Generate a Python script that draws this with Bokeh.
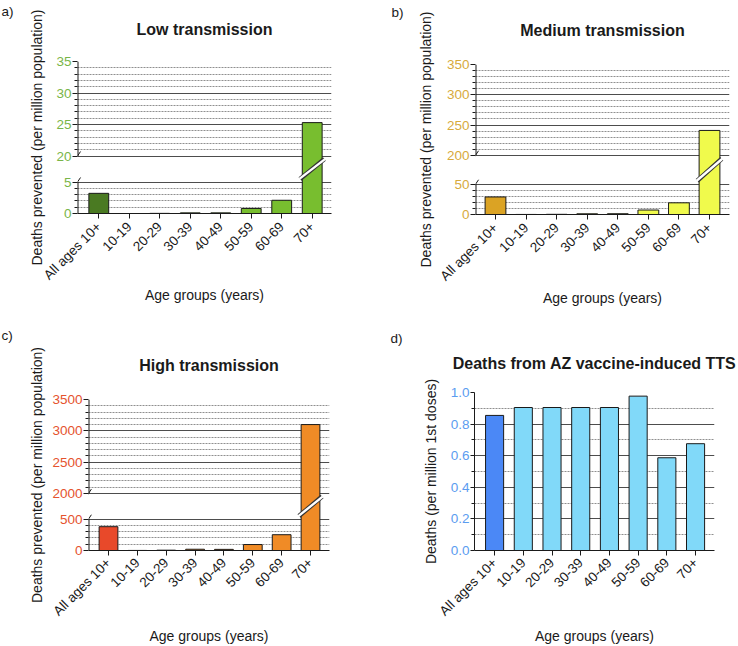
from math import pi
from bokeh.plotting import figure
from bokeh.models import (Range1d, FixedTicker, Grid, ColumnDataSource, NumeralTickFormatter, Title,
                          LinearAxis, CustomLabelingPolicy)
from bokeh.layouts import column, row
from bokeh.embed import file_html
from bokeh.resources import INLINE

FONT = "Liberation Sans"
INK = "#1a1a1a"

# ---------------- data ----------------
categories = ["All ages 10+", "10-19", "20-29", "30-39", "40-49", "50-59", "60-69", "70+"]
low_values = [3.2, 0.0, 0.02, 0.1, 0.1, 0.8, 2.1, 25.3]
medium_values = [29.0, 0.1, 0.3, 1.2, 1.3, 7.4, 19.3, 241.0]
high_values = [380.0, 1.0, 5.0, 20.0, 18.0, 95.0, 252.0, 3100.0]
tts_values = [0.855, 0.905, 0.905, 0.905, 0.905, 0.977, 0.587, 0.676]

# broken-axis scales: (lower segment top, upper segment bottom, upper top, major step, minor step)
low_scale = (5, 20, 35, 5, 1)
medium_scale = (50, 200, 350, 50, 10)
high_scale = (500, 2000, 3500, 500, 100)
tts_ticks = [0.0, 0.2, 0.4, 0.6, 0.8, 1.0]
tts_minor = [0.1, 0.3, 0.5, 0.7, 0.9]

low_colors = ["#4a7a22", "#78be2f"]
medium_colors = ["#dba324", "#f0fa4c"]
high_colors = ["#e8492a", "#f08b26"]
tts_colors = ["#4b88f6", "#81d9f9"]
low_tick_color = "#79b548"
medium_tick_color = "#d7aa3c"
high_tick_color = "#e5532e"
tts_tick_color = "#5b9cf0"

y_label_prevented = "Deaths prevented (per million population)"
y_label_tts = "Deaths (per million 1st doses)"
x_label = "Age groups (years)"


def base_fig(g, xr, yr):
    p = figure(width=g["w"], height=g["h"], x_range=xr, y_range=yr, output_backend="svg",
               toolbar_location=None, title=None,
               min_border_left=g["ml"], min_border_right=g["mr"],
               min_border_top=g["mt"], min_border_bottom=g["h"] - g["mt"] - g["fh"])
    p.outline_line_color = None
    p.grid.visible = False
    p.background_fill_color = "white"
    p.border_fill_color = "white"
    return p


def spacer(size):
    # a label-less axis (white tick only) that just reserves vertical room in the header
    return LinearAxis(ticker=FixedTicker(ticks=[3.5]),
                      major_label_policy=CustomLabelingPolicy(code="return"),
                      major_label_text_font_size="1px", major_label_standoff=0,
                      major_label_text_color="white",
                      major_tick_out=int(round(size)), major_tick_in=0,
                      minor_tick_out=0, minor_tick_in=0, axis_line_color=None,
                      major_tick_line_color="white", minor_tick_line_color="white")


def add_header(p, g, title, letter):
    # stacked from the frame outward: spacer, title, spacer, letter
    p.add_layout(spacer(g["sp2"]), "above")
    p.add_layout(Title(text=title, align="center", vertical_align="bottom", standoff=0,
                       text_font=FONT, text_font_size="16px", text_font_style="bold",
                       text_color=INK), "above")
    if g["sp1"] > 0:
        p.add_layout(spacer(g["sp1"]), "above")
    p.add_layout(Title(text=letter, align="left", vertical_align="bottom", standoff=0,
                       offset=g["lx"], text_font=FONT, text_font_size="13.5px",
                       text_font_style="normal", text_color=INK), "above")


def style_x(ax, std, lab_std):
    ax.ticker = FixedTicker(ticks=list(range(len(categories))))
    ax.major_label_overrides = {i: c for i, c in enumerate(categories)}
    ax.major_label_orientation = pi / 4
    ax.major_label_text_font = FONT
    ax.major_label_text_font_size = "13.5px"
    ax.major_label_text_color = INK
    ax.major_label_standoff = lab_std
    ax.major_tick_out = 5
    ax.major_tick_in = 0
    ax.minor_tick_out = 0
    ax.minor_tick_in = 0
    ax.axis_line_color = INK
    ax.major_tick_line_color = INK
    ax.axis_label = x_label
    ax.axis_label_text_font = FONT
    ax.axis_label_text_font_size = "14px"
    ax.axis_label_text_font_style = "normal"
    ax.axis_label_text_color = INK
    ax.axis_label_standoff = std


def style_y(ax, label, color, std):
    ax.major_label_text_font = FONT
    ax.major_label_text_font_size = "13.5px"
    ax.major_label_text_color = color
    ax.major_label_standoff = 1
    ax.major_tick_out = 5
    ax.major_tick_in = 0
    ax.minor_tick_out = 3
    ax.minor_tick_in = 0
    ax.major_tick_line_color = INK
    ax.minor_tick_line_color = INK
    ax.axis_label = label
    ax.axis_label_text_font = FONT
    ax.axis_label_text_font_size = "14px"
    ax.axis_label_text_font_style = "normal"
    ax.axis_label_text_color = INK
    ax.axis_label_standoff = std


def grid(ticks, minor, range_name="default"):
    return Grid(dimension=1, ticker=FixedTicker(ticks=ticks, minor_ticks=minor),
                y_range_name=range_name,
                grid_line_color="#4d4d4d", grid_line_width=1,
                minor_grid_line_color="#8f8f8f", minor_grid_line_dash="2 1",
                minor_grid_line_width=1)


def broken_panel(values, colors, tick_color, scale, title, letter, g):
    lo_top, hi_bot, top, major, minor = scale
    n = len(categories)
    fh, gap_px = g["fh"], g["gap"]
    span = lo_top + (top - hi_bot)
    k = (fh - gap_px) / span                 # px per data unit
    gap_u = gap_px / k
    off = hi_bot - lo_top - gap_u
    H = top - off
    x0 = -0.5 - g["pl"]
    p = base_fig(g, Range1d(x0, n - 0.5 + g["pr"]), Range1d(0, H))
    p.extra_y_ranges = {"up": Range1d(off, top)}
    xax, yax = p.xaxis[0], p.yaxis[0]

    lo_major = list(range(0, lo_top + 1, major))
    hi_major = list(range(hi_bot, top + 1, major))
    lo_minor = [v for v in range(0, lo_top + 1, minor) if v % major]
    hi_minor = [v for v in range(hi_bot, top + 1, minor) if v % major]
    p.add_layout(grid(lo_major, lo_minor))
    p.add_layout(grid(hi_major, hi_minor, "up"))

    xs = list(range(n))
    fills = [colors[0]] + [colors[1]] * (n - 1)
    lo_i = [i for i in xs if values[i] <= lo_top]
    hi_i = [i for i in xs if values[i] > lo_top]
    lo_src = ColumnDataSource(dict(x=[xs[i] for i in lo_i], top=[values[i] for i in lo_i],
                                   fill=[fills[i] for i in lo_i]))
    hi_src = ColumnDataSource(dict(x=[xs[i] for i in hi_i], top=[values[i] for i in hi_i],
                                   fill=[fills[i] for i in hi_i]))
    bw = g["bw"]
    p.vbar(x="x", top="top", bottom=0, width=bw, fill_color="fill", line_color=INK,
           line_width=1, source=lo_src)
    p.vbar(x="x", top="top", bottom=off, width=bw, fill_color="fill", line_color=INK,
           line_width=1, source=hi_src, y_range_name="up")
    # break slash across tall bars
    bx = [xs[i] for i in hi_i]
    sy0 = [lo_top + 0.12 * gap_u] * len(bx)
    sy1 = [lo_top + 0.88 * gap_u] * len(bx)
    p.segment(x0=[x - 0.4 for x in bx], y0=sy0, x1=[x + 0.4 for x in bx], y1=sy1,
              line_color="#333333", line_width=4.5)
    p.segment(x0=[x - 0.42 for x in bx], y0=sy0, x1=[x + 0.42 for x in bx], y1=sy1,
              line_color="white", line_width=2.4)
    # broken y axis line
    p.segment(x0=[x0, x0], y0=[0, lo_top + gap_u], x1=[x0, x0], y1=[lo_top, H],
              line_color=INK, line_width=2)
    dy = 4.5 / k
    p.segment(x0=[x0 - 0.1] * 2, y0=[lo_top - dy, lo_top + gap_u - dy],
              x1=[x0 + 0.1] * 2, y1=[lo_top + dy, lo_top + gap_u + dy],
              line_color=INK, line_width=1)

    style_x(xax, g["xstd"], g["xlstd"])
    style_y(yax, y_label_prevented, tick_color, g["ystd"])
    pos = lambda v: v if v <= lo_top else v - off
    yax.ticker = FixedTicker(ticks=[pos(v) for v in lo_major + hi_major],
                             minor_ticks=[pos(v) for v in lo_minor + hi_minor])
    yax.major_label_overrides = {pos(v): str(v) for v in lo_major + hi_major}
    yax.axis_line_color = None

    add_header(p, g, title, letter)
    return p


def tts_panel(g):
    n = len(categories)
    p = base_fig(g, Range1d(-0.5 - g["pl"], n - 0.5 + g["pr"]), Range1d(0, tts_ticks[-1]))
    xax, yax = p.xaxis[0], p.yaxis[0]
    p.add_layout(grid(tts_ticks, tts_minor))
    xs = list(range(n))
    fills = [tts_colors[0]] + [tts_colors[1]] * (n - 1)
    src = ColumnDataSource(dict(x=xs, top=tts_values, fill=fills))
    p.vbar(x="x", top="top", bottom=0, width=g["bw"], fill_color="fill", line_color=INK,
           line_width=1, source=src)
    style_x(xax, g["xstd"], g["xlstd"])
    style_y(yax, y_label_tts, tts_tick_color, g["ystd"])
    yax.ticker = FixedTicker(ticks=tts_ticks, minor_ticks=tts_minor)
    yax.formatter = NumeralTickFormatter(format="0.0")
    yax.axis_line_color = INK
    yax.major_tick_out = 4
    add_header(p, g, "Deaths from AZ vaccine-induced TTS", "d)")
    return p


geo_a = dict(w=369, h=324, ml=77, mr=38, mt=61, fh=152, gap=26, pl=0.198, pr=0.133, bw=0.65,
             xstd=-4, xlstd=6, ystd=8, sp1=0, sp2=20, lx=-76)
geo_c = dict(w=369, h=322, ml=88, mr=40, mt=75, fh=153, gap=26, pl=0.193, pr=0.158, bw=0.65,
             xstd=1, xlstd=5, ystd=4, sp1=8, sp2=22, lx=-87)
geo_b = dict(w=369, h=327, ml=106, mr=9, mt=64, fh=150, gap=29, pl=0.154, pr=0.154, bw=0.68,
             xstd=-2, xlstd=6, ystd=10, sp1=0, sp2=22, lx=-84)
geo_d = dict(w=369, h=319, ml=105, mr=24, mt=65, fh=160, pl=0.2, pr=0.16, bw=0.63,
             xstd=1, xlstd=5, ystd=9, sp1=3, sp2=17, lx=-84)

pa = broken_panel(low_values, low_colors, low_tick_color, low_scale, "Low transmission", "a)", geo_a)
pb = broken_panel(medium_values, medium_colors, medium_tick_color, medium_scale,
                  "Medium transmission", "b)", geo_b)
pc = broken_panel(high_values, high_colors, high_tick_color, high_scale, "High transmission", "c)", geo_c)
pd = tts_panel(geo_d)

layout = row(column(row(pa), row(pc)), column(row(pb), row(pd)))
open("out.html", "w").write(file_html(layout, INLINE))
